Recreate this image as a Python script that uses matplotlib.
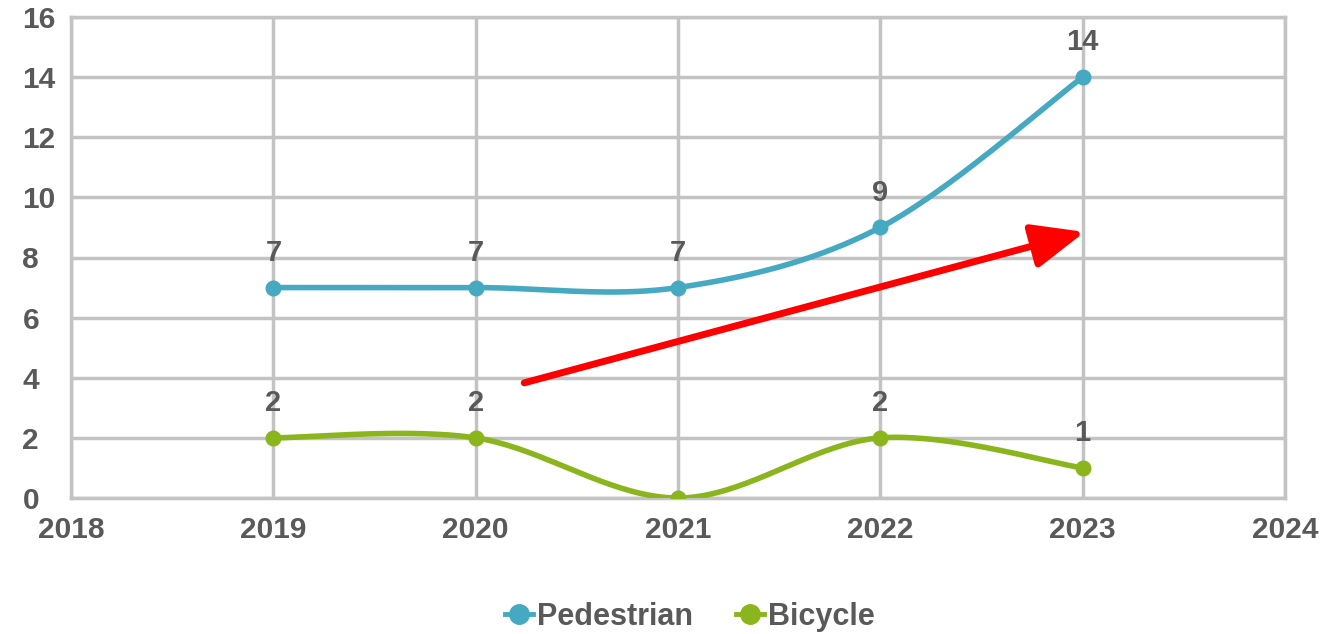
import matplotlib.pyplot as plt
import numpy as np

# chart data
years = [2019, 2020, 2021, 2022, 2023]
pedestrian = [7, 7, 7, 9, 14]
bicycle = [2, 2, 0, 2, 1]

ped_color = '#45A9C2'
bike_color = '#8AB51C'
text_color = '#595959'
grid_color = '#C3C3C3'

plt.rcParams['font.family'] = ['Liberation Sans', 'DejaVu Sans']


# smooth line through the points, like a spreadsheet "smoothed line"
def smooth(xs, ys, steps=40):
    xs = np.asarray(xs, float)
    ys = np.asarray(ys, float)
    px = np.concatenate([[xs[0]], xs, [xs[-1]]])
    py = np.concatenate([[ys[0]], ys, [ys[-1]]])
    outx, outy = [], []
    for i in range(1, len(px) - 2):
        p0 = np.array([px[i], py[i]])
        p3 = np.array([px[i + 1], py[i + 1]])
        c1 = p0 + (np.array([px[i + 1], py[i + 1]]) - np.array([px[i - 1], py[i - 1]])) / 6
        c2 = p3 - (np.array([px[i + 2], py[i + 2]]) - np.array([px[i], py[i]])) / 6
        t = np.linspace(0, 1, steps)[:, None]
        pts = (1 - t) ** 3 * p0 + 3 * (1 - t) ** 2 * t * c1 + 3 * (1 - t) * t ** 2 * c2 + t ** 3 * p3
        outx.extend(pts[:, 0])
        outy.extend(pts[:, 1])
    return outx, outy


fig = plt.figure(figsize=(13.41, 6.34), dpi=100)
ax = fig.add_axes([71 / 1341, 1 - 498 / 634, (1285 - 71) / 1341, (498 - 17) / 634])

for vals, col, name in [(pedestrian, ped_color, 'Pedestrian'), (bicycle, bike_color, 'Bicycle')]:
    sx, sy = smooth(years, vals)
    ax.plot(sx, sy, color=col, lw=4, solid_capstyle='round', zorder=3)
    ax.plot(years, vals, 'o', color=col, ms=10.5, zorder=4)
    ax.plot([], [], '-o', color=col, lw=3.5, ms=14, label=name)
    for x, v in zip(years, vals):
        if v == 0:
            continue  # zero labels are hidden in the original
        ax.annotate(str(v), (x, v), xytext=(0, 15), textcoords='offset points',
                    ha='center', va='bottom', fontsize=21, fontweight='bold', color=text_color)

# red trend arrow
ax.annotate('', xy=(2023.01, 8.85), xytext=(2020.24, 3.83),
            arrowprops=dict(arrowstyle='-|>,head_length=3.2,head_width=1.35',
                            color='#FF0000', lw=5, shrinkA=0, shrinkB=0), zorder=5)

ax.set_xlim(2018, 2024)
ax.set_ylim(0, 16)
ax.set_xticks(range(2018, 2025))
ax.set_yticks(range(0, 17, 2))
ax.grid(True, color=grid_color, lw=2.5, zorder=0)
ax.set_axisbelow(True)
for s in ax.spines.values():
    s.set_color(grid_color)
    s.set_linewidth(2.5)

ax.tick_params(axis='both', length=0, labelsize=21.5, labelcolor=text_color)
ax.tick_params(axis='x', pad=13)
ax.tick_params(axis='y', pad=35)
for lab in ax.get_yticklabels():
    lab.set_horizontalalignment('left')
    lab.set_fontweight('bold')
for lab in ax.get_xticklabels():
    lab.set_fontweight('bold')

leg = fig.legend(loc='center', bbox_to_anchor=(690 / 1341, 1 - 617 / 634), ncol=2,
                 frameon=False, handlelength=0.9, handletextpad=0.15, columnspacing=1.4,
                 prop={'size': 22, 'weight': 'bold'})
for t in leg.get_texts():
    t.set_color(text_color)

fig.savefig('out.png', dpi=100)
